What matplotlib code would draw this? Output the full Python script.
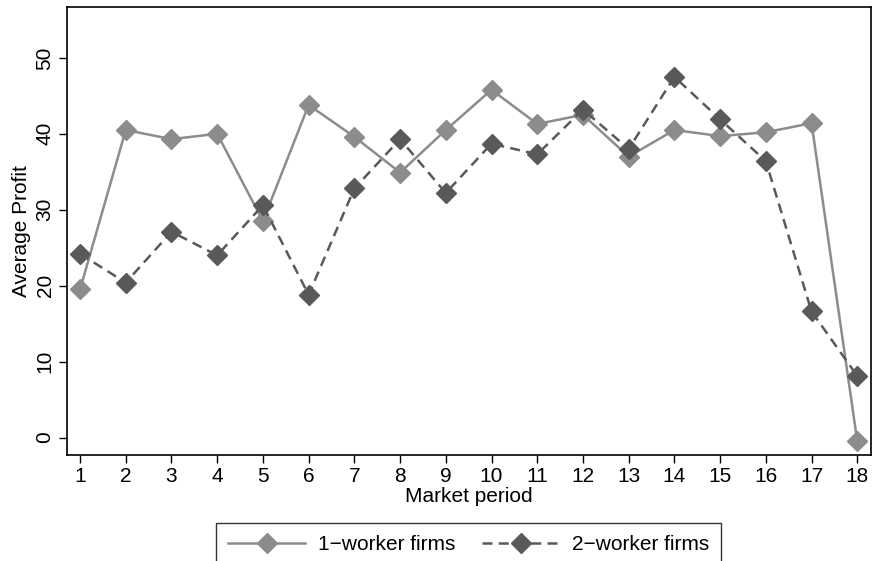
import matplotlib
matplotlib.use("Agg")
import matplotlib.pyplot as plt

plt.rcParams['font.family'] = ['Liberation Sans', 'DejaVu Sans']

periods = list(range(1, 19))
one_worker = [19.5, 40.5, 39.3, 40.0, 28.5, 43.8, 39.6, 34.9, 40.5, 45.8,
              41.3, 42.5, 37.0, 40.5, 39.7, 40.2, 41.4, -0.5]
two_worker = [24.2, 20.4, 27.1, 24.0, 30.6, 18.8, 32.8, 39.3, 32.2, 38.7,
              37.3, 43.2, 38.0, 47.5, 41.9, 36.4, 16.6, 8.1]

fig = plt.figure(figsize=(8.72, 5.61), dpi=100)
ax = fig.add_axes([67/872, 1 - 455/561, (871-67)/872, (455-7)/561])

ax.plot(periods, one_worker, color='#8c8c8c', lw=1.8, marker='D', ms=10,
        label='1\u2212worker firms')
ax.plot(periods, two_worker, color='#595959', lw=1.8, ls=(0, (4, 2.5)),
        marker='D', ms=10, label='2\u2212worker firms')

ax.set_xlim(0.715, 18.3)
ax.set_ylim(-2.3, 56.7)
ax.set_xticks(periods)
ax.set_yticks([0, 10, 20, 30, 40, 50])
ax.tick_params(axis='both', labelsize=15, length=6, width=1, colors='black',
               pad=3)
for lab in ax.get_yticklabels():
    lab.set_rotation(90)
    lab.set_va('center')
ax.set_xlabel('Market period', fontsize=15, labelpad=0)
ax.set_ylabel('Average Profit', fontsize=15, labelpad=3)
for s in ax.spines.values():
    s.set_linewidth(1.2)

leg = fig.legend(loc='upper center', bbox_to_anchor=(468.5/872, 1 - 523/561),
                 ncol=2, fontsize=15, frameon=True, fancybox=False,
                 edgecolor='black', handlelength=3.7, handletextpad=0.6,
                 borderpad=0.6, columnspacing=1.3, borderaxespad=0)
leg.get_frame().set_linewidth(1)

fig.savefig('out.png', dpi=100)
